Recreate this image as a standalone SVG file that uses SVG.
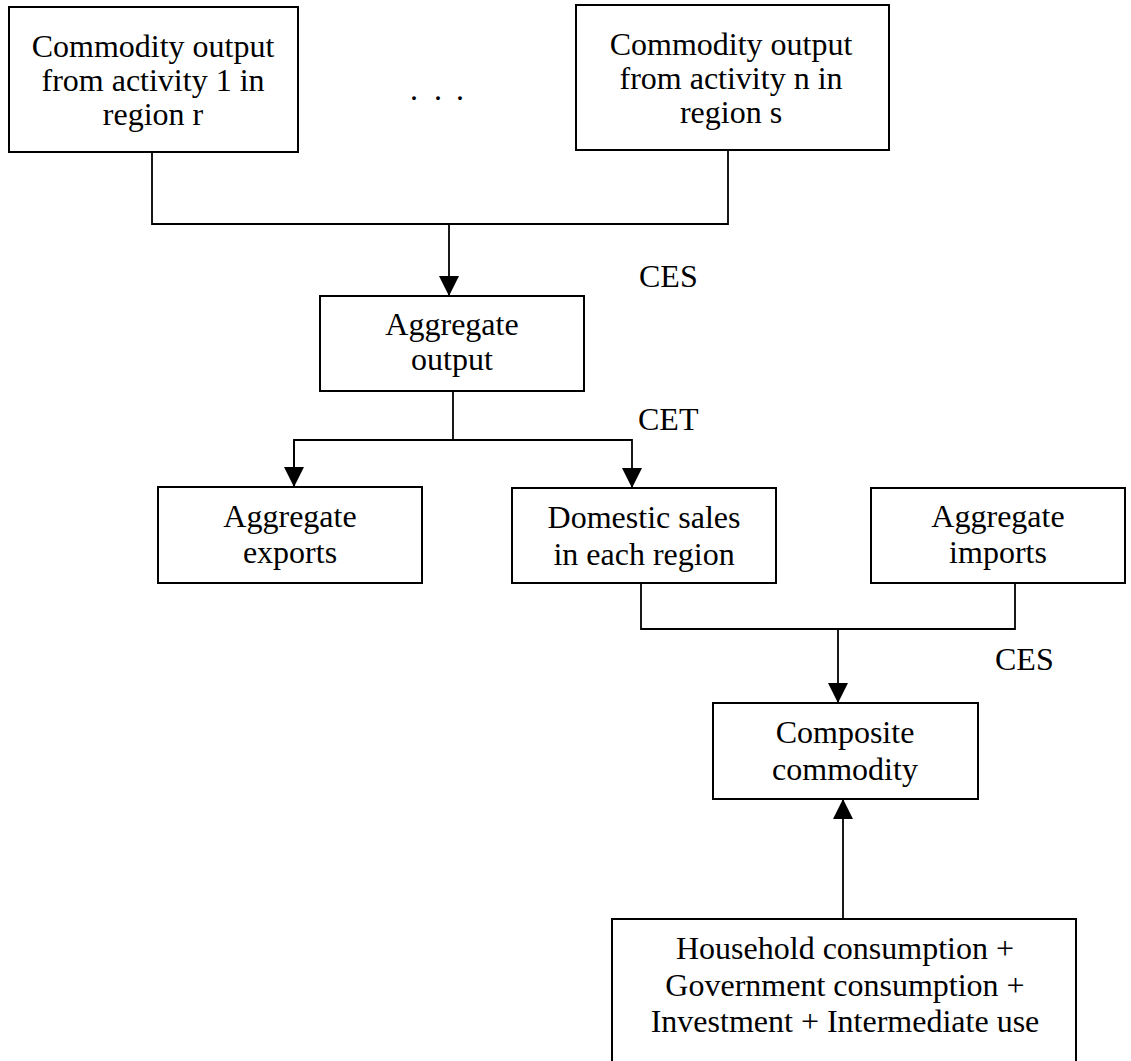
<svg xmlns="http://www.w3.org/2000/svg" width="1131" height="1061" viewBox="0 0 1131 1061">
<style>
.box{fill:#fff;stroke:#000;stroke-width:2}
.t{font-family:"Liberation Serif","Times New Roman",serif;font-size:32px;fill:#000;text-anchor:middle}
.l{font-family:"Liberation Serif","Times New Roman",serif;font-size:32px;fill:#000}
.c{fill:none;stroke:#000;stroke-width:1.8}
</style>
<defs>
<marker id="ah" markerUnits="userSpaceOnUse" markerWidth="20" markerHeight="20" viewBox="0 0 20 20" refX="20" refY="10" orient="auto">
<path d="M0,0 L20,10 L0,20 Z" fill="#000"/>
</marker>
</defs>
<rect width="1131" height="1061" fill="#fff"/>
<g id="connectors">
<polyline class="c" points="152,152 152,224 728,224 728,150"/>
<line class="c" x1="449" y1="224" x2="449" y2="296" marker-end="url(#ah)"/>
<line class="c" x1="453" y1="391" x2="453" y2="440"/>
<polyline class="c" points="294,487 294,440 632,440 632,488" marker-end="url(#ah)"/>
<line class="c" x1="294" y1="440" x2="294" y2="487" marker-end="url(#ah)"/>
<polyline class="c" points="641,583 641,629 1015,629 1015,583"/>
<line class="c" x1="838" y1="629" x2="838" y2="703" marker-end="url(#ah)"/>
<line class="c" x1="843" y1="919" x2="843" y2="799" marker-end="url(#ah)"/>
</g>
<g id="node-activity1">
<rect class="box" x="9" y="7" width="289" height="145"/>
<text class="t" x="153" y="57">Commodity output</text>
<text class="t" x="153" y="91">from activity 1 in</text>
<text class="t" x="153" y="125">region r</text>
</g>
<g id="node-dots">
<text class="l" x="410 422 434 445 456" y="100">. . .</text>
</g>
<g id="node-activityn">
<rect class="box" x="576" y="5" width="313" height="145"/>
<text class="t" x="731" y="55">Commodity output</text>
<text class="t" x="731" y="89">from activity n in</text>
<text class="t" x="731" y="123">region s</text>
</g>
<g id="node-aggoutput">
<rect class="box" x="320" y="296" width="264" height="95"/>
<text class="t" x="452" y="335">Aggregate</text>
<text class="t" x="452" y="370">output</text>
</g>
<g id="label-ces1"><text class="l" x="639" y="287">CES</text></g>
<g id="label-cet"><text class="l" x="638" y="430">CET</text></g>
<g id="node-exports">
<rect class="box" x="158" y="487" width="264" height="96"/>
<text class="t" x="290" y="527">Aggregate</text>
<text class="t" x="290" y="563">exports</text>
</g>
<g id="node-domestic">
<rect class="box" x="512" y="488" width="264" height="95"/>
<text class="t" x="644" y="528">Domestic sales</text>
<text class="t" x="644" y="565">in each region</text>
</g>
<g id="node-imports">
<rect class="box" x="871" y="488" width="254" height="95"/>
<text class="t" x="998" y="527">Aggregate</text>
<text class="t" x="998" y="563">imports</text>
</g>
<g id="label-ces2"><text class="l" x="995" y="670">CES</text></g>
<g id="node-composite">
<rect class="box" x="713" y="703" width="265" height="96"/>
<text class="t" x="845" y="743">Composite</text>
<text class="t" x="845" y="780">commodity</text>
</g>
<g id="node-demand">
<rect class="box" x="612" y="919" width="464" height="160"/>
<text class="t" x="845" y="959">Household consumption +</text>
<text class="t" x="845" y="996">Government consumption +</text>
<text class="t" x="845" y="1032">Investment + Intermediate use</text>
</g>
</svg>
